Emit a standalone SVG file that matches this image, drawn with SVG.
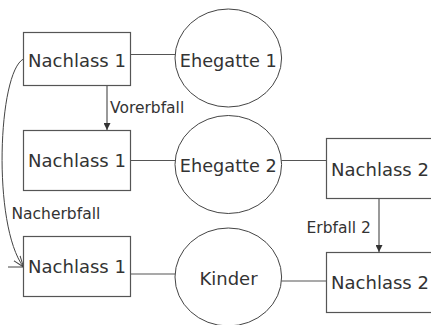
<svg xmlns="http://www.w3.org/2000/svg" width="431" height="325" viewBox="0 0 431 325">
<style>
.box{fill:#fff;stroke:#555;stroke-width:1.2}
.ell{fill:#fff;stroke:#444;stroke-width:1}
.t{font-family:"DejaVu Sans",Verdana,sans-serif;font-size:18px;fill:#333}
.lab{font-family:"DejaVu Sans",Verdana,sans-serif;font-size:15.5px;fill:#333}
.c{fill:none;stroke:#555;stroke-width:1.2}
</style>
<defs>
<marker id="tri" viewBox="0 0 10 10" refX="10" refY="5" markerWidth="7" markerHeight="7" markerUnits="userSpaceOnUse" orient="auto"><path d="M0,0 L10,5 L0,10 Z" fill="#333"/></marker>
<marker id="open" viewBox="0 0 12 12" refX="11" refY="6" markerWidth="12" markerHeight="12" markerUnits="userSpaceOnUse" orient="auto"><path d="M0,2 L11,6 L0,10" fill="none" stroke="#444" stroke-width="1"/></marker>
</defs>
<g id="connectors">
<line class="c" x1="130" y1="54.5" x2="175" y2="54.5"/>
<line class="c" x1="130" y1="160.5" x2="175" y2="160.5"/>
<line class="c" x1="281" y1="160.5" x2="326" y2="160.5"/>
<line class="c" x1="130" y1="274" x2="175" y2="274"/>
<line class="c" x1="281" y1="281" x2="326" y2="281"/>
<line class="c" x1="107" y1="85.5" x2="107" y2="130" marker-end="url(#tri)"/>
<line class="c" x1="379" y1="198" x2="379" y2="252" marker-end="url(#tri)"/>
<path d="M23.5,59 C-2,72 -8,225 23.5,267" fill="none" stroke="#444" stroke-width="1" marker-end="url(#open)"/>
<line x1="8" y1="267" x2="23.5" y2="267" stroke="#444" stroke-width="1"/>
<text class="lab" x="110" y="113">Vorerbfall</text>
<text class="lab" x="11.5" y="219">Nacherbfall</text>
<text class="lab" x="306.5" y="233">Erbfall 2</text>
</g>
<g id="nachlass1a"><rect class="box" x="23.5" y="32.5" width="107" height="53"/><text class="t" x="77" y="66.5" text-anchor="middle">Nachlass 1</text></g>
<g id="nachlass1b"><rect class="box" x="23.5" y="130.5" width="107" height="60"/><text class="t" x="77" y="166.5" text-anchor="middle">Nachlass 1</text></g>
<g id="nachlass1c"><rect class="box" x="23.5" y="236.5" width="107" height="60"/><text class="t" x="77" y="273" text-anchor="middle">Nachlass 1</text></g>
<g id="ehegatte1"><ellipse class="ell" cx="228.3" cy="58" rx="53.3" ry="49"/><text class="t" x="228.3" y="66.5" text-anchor="middle" textLength="97" lengthAdjust="spacingAndGlyphs">Ehegatte 1</text></g>
<g id="ehegatte2"><ellipse class="ell" cx="228.3" cy="164.5" rx="53.3" ry="49"/><text class="t" x="228.3" y="171.5" text-anchor="middle" textLength="97" lengthAdjust="spacingAndGlyphs">Ehegatte 2</text></g>
<g id="kinder"><ellipse class="ell" cx="228.3" cy="277" rx="53.3" ry="49"/><text class="t" x="228.5" y="285" text-anchor="middle">Kinder</text></g>
<g id="nachlass2a"><rect class="box" x="326.5" y="138.5" width="107" height="60"/><text class="t" x="380" y="176" text-anchor="middle">Nachlass 2</text></g>
<g id="nachlass2b"><rect class="box" x="326.5" y="252.5" width="107" height="60"/><text class="t" x="380" y="288.5" text-anchor="middle">Nachlass 2</text></g>
</svg>
